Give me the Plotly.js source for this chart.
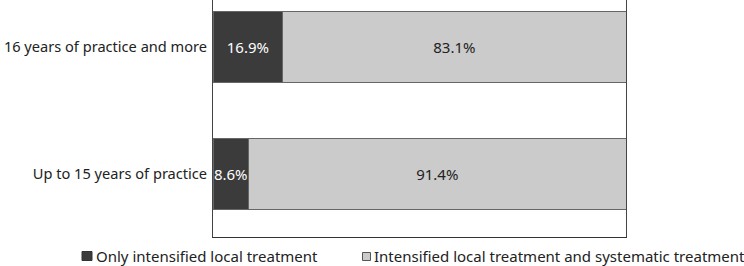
<!DOCTYPE html>
<html>
<head>
<meta charset="utf-8">
<script src="https://cdn.plot.ly/plotly-3.0.1.min.js"></script>
<style>html,body{margin:0;padding:0;background:#fff;}#chart{width:744px;height:266px;}</style>
</head>
<body>
<div id="chart"></div>
<script>
const categories = ["Up to 15 years of practice", "16 years of practice and more"];
const seriesNames = ["Only intensified local treatment", "Intensified local treatment and systematic treatment"];
const onlyLocal = [8.6, 16.9];
const localAndSystemic = [91.4, 83.1];
const seriesColors = ["#3b3b3b", "#cbcbcb"];

const fontFamily = "Noto Sans, Open Sans, sans-serif";
const fs = 15;

const traces = [
  {
    type: "bar", orientation: "h", name: seriesNames[0],
    y: categories, x: onlyLocal,
    text: onlyLocal.map(v => v.toFixed(1) + "%"),
    textposition: "inside", insidetextanchor: "middle", textangle: 0, constraintext: "none",
    insidetextfont: {color: "#ffffff", size: fs, family: fontFamily},
    marker: {color: seriesColors[0], line: {color: "#666666", width: 1}},
    width: 0.56, hoverinfo: "none"
  },
  {
    type: "bar", orientation: "h", name: seriesNames[1],
    y: categories, x: localAndSystemic,
    text: localAndSystemic.map(v => v.toFixed(1) + "%"),
    textposition: "inside", insidetextanchor: "middle", textangle: 0, constraintext: "none",
    insidetextfont: {color: "#222222", size: fs, family: fontFamily},
    marker: {color: seriesColors[1], line: {color: "#666666", width: 1}},
    width: 0.56, hoverinfo: "none"
  }
];

// manual legend (pixel offsets relative to the plot's bottom-left corner)
const legendShapes = [
  {type: "rect", xref: "paper", yref: "paper", xsizemode: "pixel", ysizemode: "pixel",
   xanchor: 0, yanchor: 0, x0: -131, x1: -121, y0: -14.5, y1: -23.5,
   fillcolor: seriesColors[0], line: {color: "#333333", width: 1}},
  {type: "rect", xref: "paper", yref: "paper", xsizemode: "pixel", ysizemode: "pixel",
   xanchor: 0, yanchor: 0, x0: 149.5, x1: 157.5, y0: -15.5, y1: -23.5,
   fillcolor: seriesColors[1], line: {color: "#555555", width: 1}}
];
const legendAnnotations = [
  {xref: "paper", yref: "paper", x: 0, y: 0, xanchor: "left", yanchor: "middle",
   xshift: -119, yshift: -18.5, showarrow: false, text: seriesNames[0],
   font: {size: fs, color: "#222222", family: fontFamily}},
  {xref: "paper", yref: "paper", x: 0, y: 0, xanchor: "left", yanchor: "middle",
   xshift: 159, yshift: -18.5, showarrow: false, text: seriesNames[1],
   font: {size: fs, color: "#222222", family: fontFamily}}
];

const layout = {
  width: 744, height: 266,
  margin: {l: 213, r: 118, t: 0, b: 28.5, pad: 0},
  barmode: "stack",
  paper_bgcolor: "#ffffff", plot_bgcolor: "#ffffff",
  font: {family: fontFamily, size: fs, color: "#222222"},
  xaxis: {range: [0, 100], showticklabels: false, ticks: "", showgrid: false, zeroline: false,
          showline: true, linecolor: "#333333", linewidth: 1, fixedrange: true},
  yaxis: {type: "category", range: [-0.5, 1.374], showgrid: false, zeroline: false,
          showline: true, mirror: true, linecolor: "#444444", linewidth: 1, ticks: "",
          ticklabelstandoff: 2, tickfont: {size: 14.6, color: "#222222"}, fixedrange: true},
  showlegend: false,
  shapes: legendShapes,
  annotations: legendAnnotations,
  bargap: 0.44
};

Plotly.newPlot("chart", traces, layout, {displayModeBar: false, staticPlot: true});
</script>
</body>
</html>
